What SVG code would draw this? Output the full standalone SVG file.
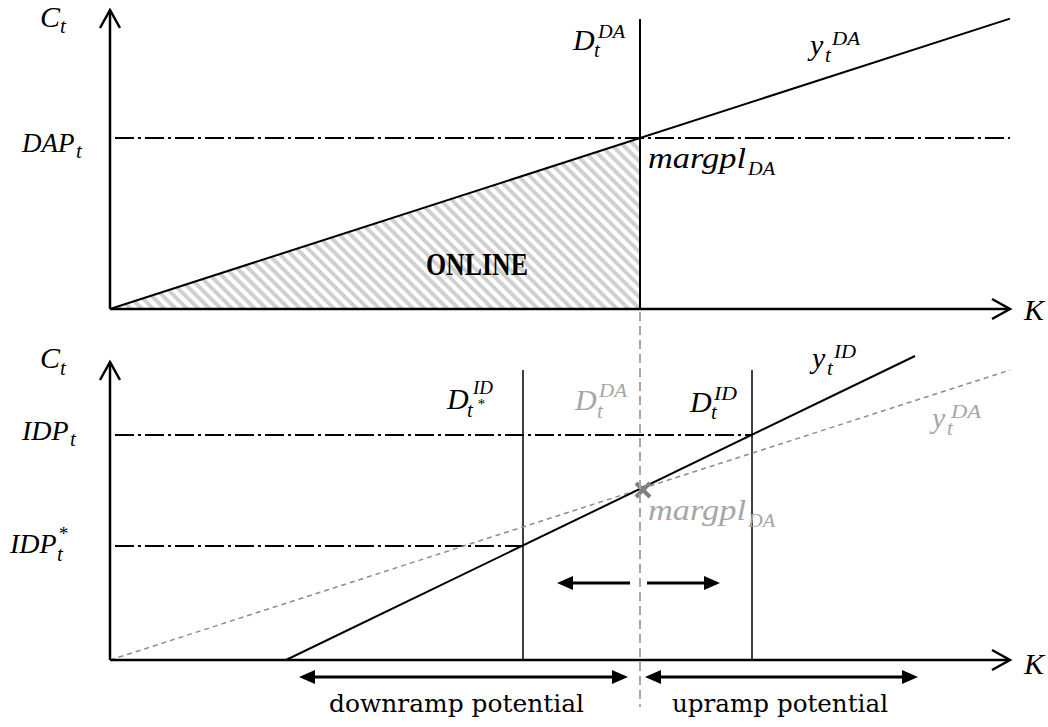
<svg xmlns="http://www.w3.org/2000/svg" width="1048" height="727" viewBox="0 0 1048 727">
<style>
.ax{stroke:#000;stroke-width:2.5;fill:none}
.ln{stroke:#000;stroke-width:2;fill:none}
.thin{stroke:#000;stroke-width:1.5;fill:none}
.dd{stroke:#000;stroke-width:2;fill:none;stroke-dasharray:19 4 3 4}
.gd{stroke:#a6a6a6;stroke-width:2;fill:none;stroke-dasharray:9 5}
.gl{stroke:#8c8c8c;stroke-width:1.5;fill:none;stroke-dasharray:5 4}
.arr{stroke:#000;stroke-width:3;fill:none}
.m{font-family:"Liberation Serif",serif;font-style:italic;font-size:30px;fill:#000}
.s{font-size:21px}
.p{font-size:19px}
.st{font-size:15px}
.g{fill:#a6a6a6}
.b{font-family:"Liberation Serif",serif;font-weight:bold;font-size:32px;fill:#000}
.t{font-family:"DejaVu Serif",serif;font-size:24px;fill:#000}
</style>
<defs>
<pattern id="hatch" width="8" height="8" patternUnits="userSpaceOnUse" patternTransform="rotate(-45)">
<rect x="0" y="0" width="4" height="8" fill="#d0d0d0"/>
</pattern>
<marker id="ah" markerUnits="userSpaceOnUse" markerWidth="17" markerHeight="15" refX="12" refY="7" orient="auto-start-reverse" viewBox="0 0 17 15">
<path d="M0,0 L16,7 L0,14 z" fill="#000"/>
</marker>
</defs>

<g id="top-panel">
<polygon points="110,309 640,138 640,309" fill="url(#hatch)"/>
<line class="dd" x1="115" y1="138" x2="1010" y2="138"/>
<line class="ln" x1="640" y1="19" x2="640" y2="309"/>
<line class="ln" x1="110" y1="309" x2="1010" y2="18.6"/>
<line class="ax" x1="110" y1="10" x2="110" y2="309"/>
<line class="ax" x1="110" y1="309" x2="1009" y2="309"/>
<polyline class="ax" points="100,28 110,10 120,28"/>
<polyline class="ax" points="992,299 1010,309 992,319"/>
</g>

<g id="bottom-panel">
<line class="dd" x1="115" y1="435" x2="752" y2="435"/>
<line class="dd" x1="115" y1="546" x2="523" y2="546"/>
<line class="thin" x1="523" y1="370" x2="523" y2="660"/>
<line class="thin" x1="752" y1="370" x2="752" y2="660"/>
<line class="gl" x1="110" y1="660" x2="1010" y2="370"/>
<line class="ln" x1="286" y1="660" x2="915" y2="356"/>
<line class="ax" x1="110" y1="362" x2="110" y2="660"/>
<line class="ax" x1="110" y1="660" x2="1009" y2="660"/>
<polyline class="ax" points="100,380 110,362 120,380"/>
<polyline class="ax" points="992,650 1010,660 992,670"/>
<g id="marker-x" stroke="#808080" stroke-width="4">
<line x1="636" y1="483" x2="650" y2="497"/>
<line x1="650" y1="483" x2="636" y2="497"/>
</g>
</g>

<g id="connectors">
<line class="gd" x1="640" y1="312" x2="640" y2="707"/>
<line class="arr" x1="630" y1="583" x2="561" y2="583" marker-end="url(#ah)"/>
<line class="arr" x1="647" y1="583" x2="716" y2="583" marker-end="url(#ah)"/>
<line class="arr" x1="303" y1="677" x2="624" y2="677" marker-start="url(#ah)" marker-end="url(#ah)"/>
<line class="arr" x1="649" y1="677" x2="914" y2="677" marker-start="url(#ah)" marker-end="url(#ah)"/>
</g>

<g id="labels-top">
<text class="m"><tspan x="40" y="27">C</tspan><tspan class="s" x="60" y="33">t</tspan></text>
<text class="m"><tspan x="22" y="152" style="font-size:27px">DAP</tspan><tspan class="s" x="76" y="158">t</tspan></text>
<text class="m"><tspan x="573" y="50">D</tspan><tspan class="s" x="594" y="57">t</tspan><tspan class="p" x="598" y="38" textLength="27" lengthAdjust="spacingAndGlyphs">DA</tspan></text>
<text class="m"><tspan x="810" y="55">y</tspan><tspan class="s" x="825" y="62">t</tspan><tspan class="p" x="832" y="45" textLength="28" lengthAdjust="spacingAndGlyphs">DA</tspan></text>
<text class="m"><tspan x="648" y="168" textLength="98" lengthAdjust="spacingAndGlyphs">margpl</tspan><tspan class="p" x="748" y="175" textLength="27" lengthAdjust="spacingAndGlyphs">DA</tspan></text>
<text class="b" x="426" y="275" textLength="102" lengthAdjust="spacingAndGlyphs">ONLINE</text>
<text class="m" x="1024" y="320">K</text>
</g>

<g id="labels-bottom">
<text class="m"><tspan x="40" y="368">C</tspan><tspan class="s" x="60" y="375">t</tspan></text>
<text class="m"><tspan x="22" y="440" style="font-size:28px">IDP</tspan><tspan class="s" x="70" y="446">t</tspan></text>
<text class="m"><tspan x="10" y="553" style="font-size:28px">IDP</tspan><tspan class="p" x="58" y="540">*</tspan><tspan class="s" x="57" y="561">t</tspan></text>
<text class="m"><tspan x="447" y="409">D</tspan><tspan class="s" x="467" y="417">t</tspan><tspan class="st" x="477" y="409">*</tspan><tspan class="p" x="473" y="394" textLength="20" lengthAdjust="spacingAndGlyphs">ID</tspan></text>
<text class="m g"><tspan x="575" y="410">D</tspan><tspan class="s" x="597" y="418">t</tspan><tspan class="p" x="599" y="397" textLength="28" lengthAdjust="spacingAndGlyphs">DA</tspan></text>
<text class="m"><tspan x="690" y="412">D</tspan><tspan class="s" x="711" y="419">t</tspan><tspan class="p" x="714" y="400" textLength="23" lengthAdjust="spacingAndGlyphs">ID</tspan></text>
<text class="m"><tspan x="812" y="368">y</tspan><tspan class="s" x="827" y="375">t</tspan><tspan class="p" x="834" y="358" textLength="22" lengthAdjust="spacingAndGlyphs">ID</tspan></text>
<text class="m g"><tspan x="932" y="428">y</tspan><tspan class="s" x="947" y="435">t</tspan><tspan class="p" x="951" y="418" textLength="30" lengthAdjust="spacingAndGlyphs">DA</tspan></text>
<text class="m g"><tspan x="648" y="520" textLength="98" lengthAdjust="spacingAndGlyphs">margpl</tspan><tspan class="p" x="748" y="527" textLength="27" lengthAdjust="spacingAndGlyphs">DA</tspan></text>
<text class="m" x="1024" y="674">K</text>
<text class="t" x="329" y="712" textLength="255" lengthAdjust="spacingAndGlyphs">downramp potential</text>
<text class="t" x="672" y="712" textLength="216" lengthAdjust="spacingAndGlyphs">upramp potential</text>
</g>
</svg>
